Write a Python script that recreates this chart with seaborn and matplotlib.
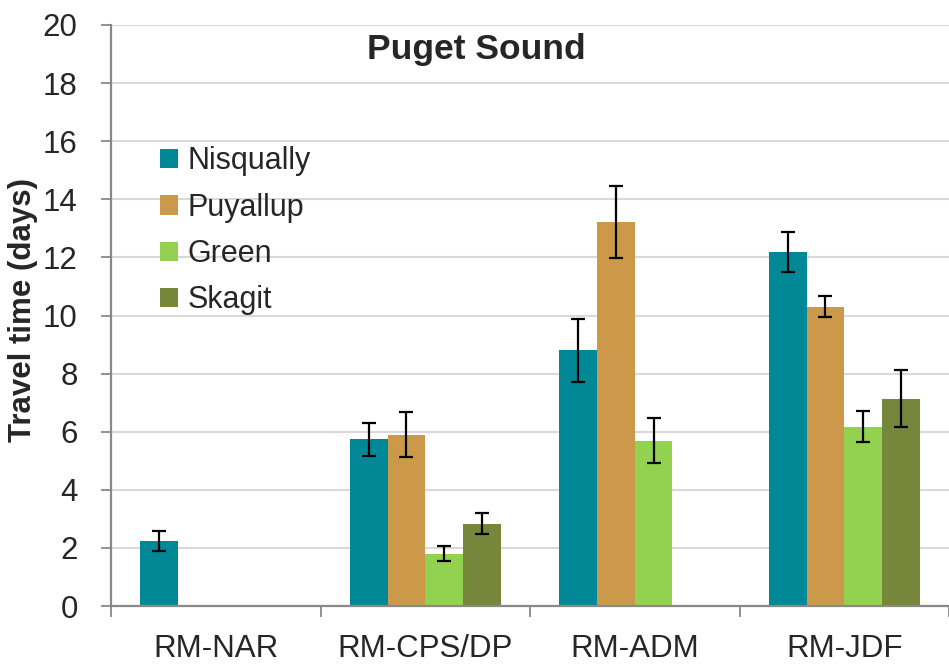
import numpy as np
import pandas as pd
import matplotlib
matplotlib.use("Agg")
import matplotlib.pyplot as plt
import seaborn as sns

categories = ["RM-NAR", "RM-CPS/DP", "RM-ADM", "RM-JDF"]
rivers = ["Nisqually", "Puyallup", "Green", "Skagit"]
nisqually = [2.24, 5.74, 8.81, 12.17]
puyallup = [np.nan, 5.90, 13.22, 10.29]
green = [np.nan, 1.80, 5.67, 6.17]
skagit = [np.nan, 2.83, np.nan, 7.11]
nisqually_lo = [1.90, 5.16, 7.72, 11.50]
nisqually_hi = [2.58, 6.31, 9.88, 12.89]
puyallup_lo = [np.nan, 5.12, 11.99, 9.94]
puyallup_hi = [np.nan, 6.68, 14.47, 10.67]
green_lo = [np.nan, 1.55, 4.91, 5.66]
green_hi = [np.nan, 2.07, 6.46, 6.71]
skagit_lo = [np.nan, 2.48, np.nan, 6.15]
skagit_hi = [np.nan, 3.20, np.nan, 8.12]
colors = ["#008897", "#CC994A", "#93D150", "#76873B"]
yticks = [0, 2, 4, 6, 8, 10, 12, 14, 16, 18, 20]

values = {"Nisqually": nisqually, "Puyallup": puyallup, "Green": green, "Skagit": skagit}
lows = {"Nisqually": nisqually_lo, "Puyallup": puyallup_lo, "Green": green_lo, "Skagit": skagit_lo}
highs = {"Nisqually": nisqually_hi, "Puyallup": puyallup_hi, "Green": green_hi, "Skagit": skagit_hi}

rows = []
for r in rivers:
    for i, c in enumerate(categories):
        rows.append({"Site": c, "River": r, "Days": values[r][i]})
df = pd.DataFrame(rows)

sns.set_style("white")
plt.rcParams["font.family"] = ["Liberation Sans", "DejaVu Sans"]

fig = plt.figure(figsize=(9.49, 6.71), dpi=100)
ax = fig.add_axes([111 / 949, 1 - 606 / 671, 838 / 949, (606 - 25) / 671])

sns.barplot(data=df, x="Site", y="Days", hue="River", order=categories,
            hue_order=rivers, palette=colors, width=0.72, gap=0,
            errorbar=None, ax=ax, saturation=1, edgecolor="none", zorder=3)

bar_containers = list(ax.containers)
for j, cont in enumerate(bar_containers):
    r = rivers[j]
    for bar in cont:
        h = bar.get_height()
        if not np.isfinite(h) or h == 0:
            continue
        xc = bar.get_x() + bar.get_width() / 2
        i = int(round(xc))
        lo, hi = lows[r][i], highs[r][i]
        if np.isfinite(lo):
            ax.errorbar([xc], [h], yerr=[[h - lo], [hi - h]], fmt="none",
                        ecolor="black", elinewidth=1.6, capsize=4.8,
                        capthick=1.6, zorder=4)

ax.set_ylim(0, 20)
ax.set_xlim(-0.5, len(categories) - 0.5)
ax.set_yticks(yticks)
ax.set_yticklabels([str(t) for t in yticks])
ax.yaxis.grid(True, color="#D9D9D9", linewidth=1.5, zorder=0)
ax.xaxis.grid(False)
ax.set_axisbelow(True)

for s in ["top", "right"]:
    ax.spines[s].set_visible(False)
for s in ["left", "bottom"]:
    ax.spines[s].set_color("#898989")
    ax.spines[s].set_linewidth(1.6)
    ax.spines[s].set_zorder(5)

ax.tick_params(axis="y", which="major", direction="out", length=7.5, width=1.3,
               color="#898989", labelsize=22.5, pad=16.5, left=True)
ax.tick_params(axis="x", which="major", length=0, labelsize=22.5, pad=20.5)
ax.set_xticks(np.arange(len(categories) + 1) - 0.5, minor=True)
ax.tick_params(axis="x", which="minor", direction="out", length=8, width=1.3,
               color="#898989", bottom=True)

ax.set_xlabel("")
ax.set_ylabel("Travel time (days)", fontsize=22.5, fontweight="bold")
ax.yaxis.set_label_coords(-0.087, 0.51)

fig.text(476 / 949, 1 - 49 / 671, "Puget Sound", fontsize=25.5, fontweight="bold",
         ha="center", va="center")

leg = ax.legend(loc="upper left", bbox_to_anchor=(0.044, 0.812), frameon=False,
                fontsize=22, handlelength=0.6, handleheight=0.6,
                handletextpad=0.29, labelspacing=0.535, borderaxespad=0)

fig.savefig("out.png", dpi=100)
